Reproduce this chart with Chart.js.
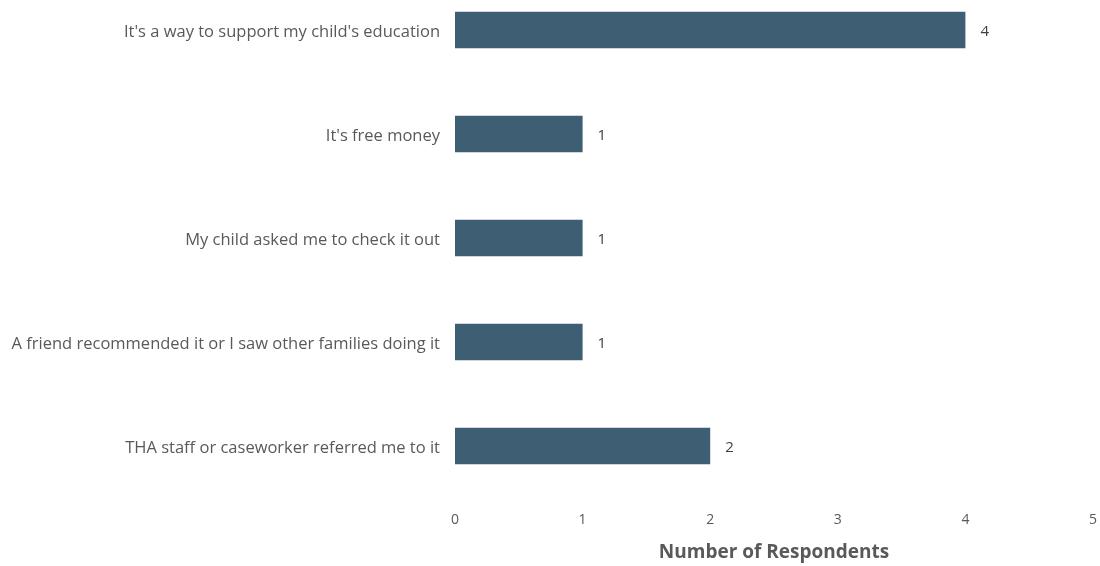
<!DOCTYPE html>
<html>
<head>
<meta charset="utf-8">
<script src="https://cdn.jsdelivr.net/npm/chart.js@4.4.1/dist/chart.umd.min.js"></script>
<style>
  html, body { margin: 0; padding: 0; background: #ffffff; }
  #wrap { width: 1100px; height: 566px; }
</style>
</head>
<body>
<div id="wrap"><canvas id="chart"></canvas></div>
<script>
// Reasons respondents gave for joining
const reasons = [
    "It's a way to support my child's education",
    "It's free money",
    "My child asked me to check it out",
    "A friend recommended it or I saw other families doing it",
    "THA staff or caseworker referred me to it"
];
const respondents = [4, 1, 1, 1, 2];
const xTicks = [0, 1, 2, 3, 4, 5];

const labelFont = "'Open Sans', sans-serif";

// Write each bar's value just past its end
const valueLabels = {
    id: 'valueLabels',
    afterDatasetsDraw(chart) {
        const ctx = chart.ctx;
        const meta = chart.getDatasetMeta(0);
        ctx.save();
        ctx.font = '15px ' + labelFont;
        ctx.fillStyle = '#404040';
        ctx.textAlign = 'left';
        ctx.textBaseline = 'middle';
        meta.data.forEach((bar, i) => {
            ctx.fillText(String(respondents[i]), bar.x + 15, bar.y + 2);
        });
        ctx.restore();
    }
};

new Chart(document.getElementById('chart'), {
    type: 'bar',
    data: {
        labels: reasons,
        datasets: [{
            data: respondents,
            backgroundColor: '#3e5f73',
            borderWidth: 0,
            barPercentage: 0.35,
            categoryPercentage: 1,
            clip: false
        }]
    },
    options: {
        indexAxis: 'y',
        responsive: true,
        maintainAspectRatio: false,
        animation: false,
        layout: { padding: { top: 30, right: 0, bottom: 2, left: 0 } },
        plugins: {
            legend: { display: false },
            tooltip: { enabled: false }
        },
        scales: {
            x: {
                min: 0,
                max: 5,
                afterBuildTicks: scale => { scale.ticks = xTicks.map(v => ({ value: v })); },
                // keep the axis box a fixed height and stop the tick padding widening the sides
                afterFit: scale => {
                    scale.height = 118;
                    scale.paddingLeft = 0;
                    scale.paddingRight = 7;
                },
                grid: { display: false, drawTicks: false },
                border: { display: false },
                ticks: {
                    padding: 66,
                    color: '#595959',
                    font: { family: labelFont, size: 14 }
                },
                title: {
                    display: true,
                    text: 'Number of Respondents',
                    color: '#595959',
                    font: { family: labelFont, size: 19, weight: 'bold' },
                    padding: { top: 6, bottom: 0 }
                }
            },
            y: {
                offset: false,
                grid: { display: false, drawTicks: false },
                border: { display: false },
                afterFit: scale => { scale.width = 455; },
                ticks: {
                    padding: 15,
                    labelOffset: 2,
                    color: '#595959',
                    font: { family: labelFont, size: 16.5 }
                }
            }
        }
    },
    plugins: [valueLabels]
});
</script>
</body>
</html>
